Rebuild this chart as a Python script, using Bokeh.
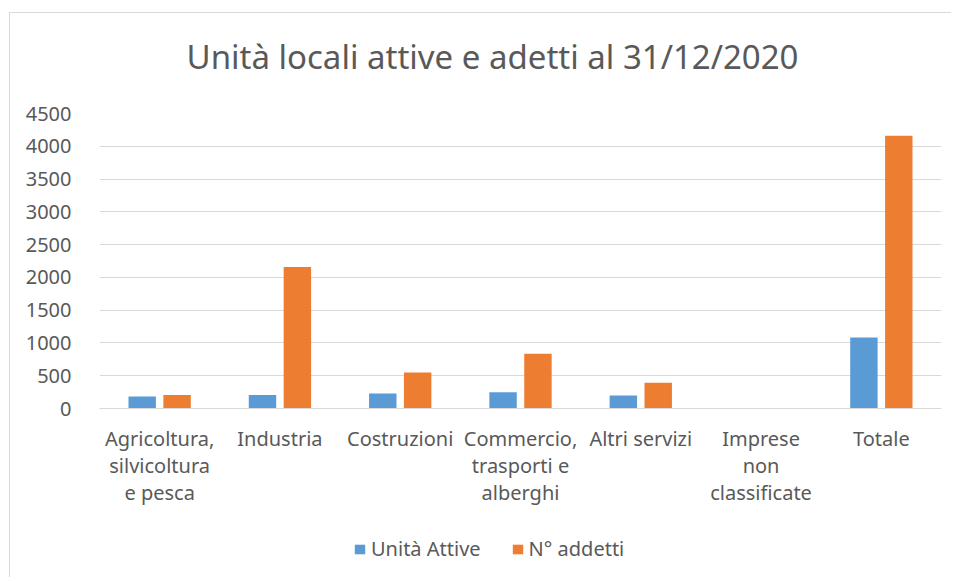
from bokeh.plotting import figure
from bokeh.layouts import column
from bokeh.models import ColumnDataSource, FactorRange, Range1d, Legend, LegendItem, Label
from bokeh.transform import dodge
from bokeh.embed import file_html
from bokeh.resources import INLINE

title_text = "Unità locali attive e adetti al 31/12/2020"
categories = [
    "Agricoltura,\nsilvicoltura\ne pesca",
    "Industria",
    "Costruzioni",
    "Commercio,\ntrasporti e\nalberghi",
    "Altri servizi",
    "Imprese\nnon\nclassificate",
    "Totale",
]
unita_attive = [184, 205, 229, 249, 198, 3, 1083]
n_addetti = [205, 2160, 550, 835, 392, 5, 4160]
y_ticks = [0, 500, 1000, 1500, 2000, 2500, 3000, 3500, 4000, 4500]
series_names = ["Unità Attive", "N° addetti"]

FONT = "Noto Sans"
TXT = "#595959"
BLUE = "#5b9bd5"
ORANGE = "#ed7d31"

src = ColumnDataSource(dict(cat=categories, ua=unita_attive, na=n_addetti))

# title strip (its frame is aligned with the chart frame by the column layout)
p0 = figure(width=941, height=84, x_range=Range1d(0, 1), y_range=Range1d(0, 1),
            output_backend="svg", toolbar_location=None,
            min_border_left=0, min_border_right=0, min_border_top=0, min_border_bottom=0)
p0.axis.visible = False
p0.grid.grid_line_color = None
p0.outline_line_color = None
p0.add_layout(Label(x=393, y=41, x_units="screen", y_units="screen", text=title_text,
                    text_align="center", text_baseline="middle",
                    text_font=FONT, text_font_size="33px", text_color=TXT))

# main chart
p = figure(
    width=941, height=436,
    x_range=FactorRange(factors=categories, range_padding=0.0),
    y_range=Range1d(0, 4500),
    output_backend="svg", toolbar_location=None,
    min_border_left=89, min_border_right=10, min_border_top=16, min_border_bottom=125,
)

p.vbar(x=dodge("cat", -0.145, range=p.x_range), top="ua", width=0.228, source=src,
       fill_color=BLUE, line_color=None)
p.vbar(x=dodge("cat", 0.145, range=p.x_range), top="na", width=0.228, source=src,
       fill_color=ORANGE, line_color=None)

p.outline_line_color = None
p.xgrid.grid_line_color = None
p.ygrid.grid_line_color = "#d9d9d9"
p.ygrid.grid_line_width = 1
p.yaxis.ticker = y_ticks
p.yaxis.axis_line_color = None
p.yaxis.major_tick_line_color = None
p.yaxis.minor_tick_line_color = None
p.yaxis.major_label_text_font = FONT
p.yaxis.major_label_text_font_size = "20px"
p.yaxis.major_label_text_color = TXT
p.yaxis.major_label_standoff = 22

p.xaxis.axis_line_color = "#d9d9d9"
p.xaxis.major_tick_line_color = None
p.xaxis.minor_tick_line_color = None
p.xaxis.major_label_text_font = FONT
p.xaxis.major_label_text_font_size = "20px"
p.xaxis.major_label_text_color = TXT
p.xaxis.major_label_standoff = 10
p.xaxis.major_label_text_line_height = 1.0

# legend strip: same series, drawn in a range where the bars stay hidden
p2 = figure(width=941, height=44,
            x_range=FactorRange(factors=categories, range_padding=0.0),
            y_range=Range1d(10000, 10001),
            output_backend="svg", toolbar_location=None,
            min_border_left=0, min_border_right=0, min_border_top=0, min_border_bottom=0)
p2.axis.visible = False
p2.grid.grid_line_color = None
p2.outline_line_color = None
l1 = p2.vbar(x="cat", top="ua", width=0.1, source=src, fill_color=BLUE, line_color=None)
l2 = p2.vbar(x="cat", top="na", width=0.1, source=src, fill_color=ORANGE, line_color=None)
legend = Legend(items=[LegendItem(label=series_names[0], renderers=[l1], index=0),
                       LegendItem(label=series_names[1], renderers=[l2], index=0)],
                orientation="horizontal", location=(254, 15),
                label_text_font=FONT, label_text_font_size="20px", label_text_color=TXT,
                glyph_width=13, glyph_height=12, spacing=30, label_standoff=5,
                border_line_color=None, background_fill_alpha=0, margin=0, padding=0)
p2.add_layout(legend, "center")

layout = column(p0, p, p2, spacing=0)
layout.margin = (12, 0, 0, 9)
layout.styles = {"border-left": "1px solid #d9d9d9", "border-top": "1px solid #d9d9d9"}

open("out.html", "w").write(file_html(layout, INLINE))
